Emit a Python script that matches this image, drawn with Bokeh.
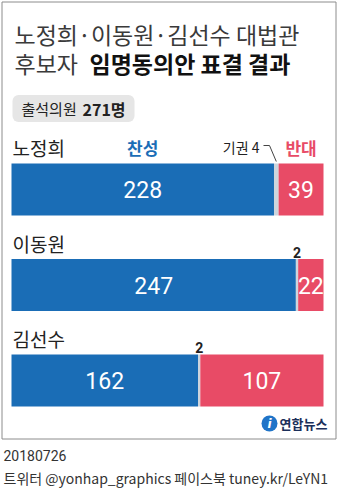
from bokeh.plotting import figure
from bokeh.models import Range1d, ColumnDataSource
from bokeh.core.properties import value
from bokeh.embed import file_html
from bokeh.resources import INLINE

# ---- data ----
candidates = ["노정희", "이동원", "김선수"]
yes_votes = [228, 247, 162]
abstain_votes = [4, 2, 2]
no_votes = [39, 22, 107]
attendance = 271
title_line1 = "노정희·이동원·김선수 대법관"
title_line2a = "후보자 "
title_line2b = "임명동의안 표결 결과"
date_text = "20180726"
credit_text = "트위터 @yonhap_graphics  페이스북 tuney.kr/LeYN1"

W, H = 340, 488
X0, X1 = 11, 323
S = (X1 - X0) / attendance  # pixels per vote


def px(x):
    return (x - X0) / S


KR = value("Noto Sans CJK KR")
NUM = value("Roboto")
BLUE = "#1a6db6"
RED = "#e84b66"
GREY = "#cdd5dd"

p = figure(width=W, height=H, output_backend="svg", toolbar_location=None,
           x_range=Range1d(px(0), px(W)), y_range=Range1d(H, 0),
           min_border=0, outline_line_color=None)
p.axis.visible = False
p.grid.visible = False
p.background_fill_color = "white"
p.border_fill_color = "white"

# frame
p.line(x=[px(1.5), px(335.5), px(335.5), px(1.5), px(1.5)],
       y=[1.5, 1.5, 438.5, 438.5, 1.5], line_color="#8c8c8c", line_width=1)

# title
p.text(x=[px(14)], y=[33], text=[title_line1], text_font=KR, text_font_size="23px",
       text_color="#3a3a3a", text_baseline="middle")
p.text(x=[px(14)], y=[62], text=[title_line2a], text_font=KR, text_font_size="23px",
       text_color="#3a3a3a", text_baseline="middle")
p.text(x=[px(89)], y=[62], text=[title_line2b], text_font=KR, text_font_size="23px",
       text_font_style="bold", text_color="#111111", text_baseline="middle")

# attendance pill
p.rect(x=[px(73)], y=[108], width=(134 - 12) / S, height=27, fill_color="#e6e6e6",
       line_color=None, border_radius=6)
p.text(x=[px(21)], y=[108], text=["출석의원"], text_font=KR, text_font_size="15px",
       text_color="#222222", text_baseline="middle")
p.text(x=[px(82)], y=[108], text=[f"{attendance}명"], text_font=KR, text_font_size="16px",
       text_font_style="bold", text_color="#222222", text_baseline="middle")

# bars
bar_y = [189, 284.5, 380]
label_y = [147, 243, 338]
left_abs = yes_votes
right_abs = [y + a for y, a in zip(yes_votes, abstain_votes)]
right_no = [y + a + n for y, a, n in zip(yes_votes, abstain_votes, no_votes)]
src = ColumnDataSource(dict(
    y=bar_y, yes=yes_votes, abs_r=right_abs, no_r=right_no,
    zero=[0] * 3,
    yes_mid=[v / 2 for v in yes_votes],
    no_mid=[(a + b) / 2 for a, b in zip(right_abs, right_no)],
    yes_txt=[str(v) for v in yes_votes],
    no_txt=[str(v) for v in no_votes],
))
p.hbar(y="y", left="zero", right="yes", height=52, source=src, fill_color=BLUE, line_color=None)
p.hbar(y="y", left="yes", right="abs_r", height=52, source=src, fill_color=GREY, line_color=None)
p.hbar(y="y", left="abs_r", right="no_r", height=52, source=src, fill_color=RED, line_color=None)

p.text(x="yes_mid", y="y", text="yes_txt", source=src, text_font=NUM, text_font_size="23px",
       text_color="white", text_align="center", text_baseline="middle")
p.text(x="no_mid", y="y", text="no_txt", source=src, text_font=NUM, text_font_size="23px",
       text_color="white", text_align="center", text_baseline="middle")

# row labels
p.text(x=[px(12)] * 3, y=label_y, text=candidates, text_font=KR, text_font_size="19px",
       text_color="#222222", text_baseline="middle")

# header legend in first row
p.text(x=[yes_votes[0] / 2], y=[label_y[0]], text=["찬성"], text_font=KR, text_font_size="17px",
       text_font_style="bold", text_color=BLUE, text_align="center", text_baseline="middle")
p.text(x=[(right_abs[0] + right_no[0]) / 2], y=[label_y[0]], text=["반대"], text_font=KR,
       text_font_size="17px", text_font_style="bold", text_color=RED, text_align="center",
       text_baseline="middle")
p.text(x=[px(259)], y=[label_y[0] - 1], text=[f"기권 {abstain_votes[0]}"], text_font=KR,
       text_font_size="14px", text_color="#222222", text_align="right", text_baseline="middle")
ab_mid0 = (left_abs[0] + right_abs[0]) / 2
p.line(x=[px(263), px(269), ab_mid0], y=[145, 145, 161], line_color="#444444", line_width=1)

# abstain counts for rows 2 and 3
for i in (1, 2):
    p.text(x=[(left_abs[i] + right_abs[i]) / 2], y=[bar_y[i] - 26 - 7], text=[str(abstain_votes[i])],
           text_font=NUM, text_font_size="14px", text_font_style="bold", text_color="#222222",
           text_align="center", text_baseline="middle")

# logo
p.scatter(x=[px(269)], y=[423], size=16, marker="circle", fill_color="#1f74c8", line_color=None)
p.text(x=[px(269)], y=[423], text=["i"], text_font=value("DejaVu Sans"), text_font_size="12px",
       text_font_style="bold italic", text_color="white", text_align="center", text_baseline="middle")
p.text(x=[px(279)], y=[423], text=["연합뉴스"], text_font=KR, text_font_size="13px",
       text_font_style="bold", text_color="#1b2f5a", text_baseline="middle")

# footer
p.text(x=[px(3)], y=[455], text=[date_text], text_font=value("Roboto"), text_font_size="14px",
       text_color="#333333", text_baseline="middle")
p.text(x=[px(3)], y=[477], text=[credit_text], text_font=KR, text_font_size="14px",
       text_color="#333333", text_baseline="middle")

open("out.html", "w").write(file_html(p, INLINE))
